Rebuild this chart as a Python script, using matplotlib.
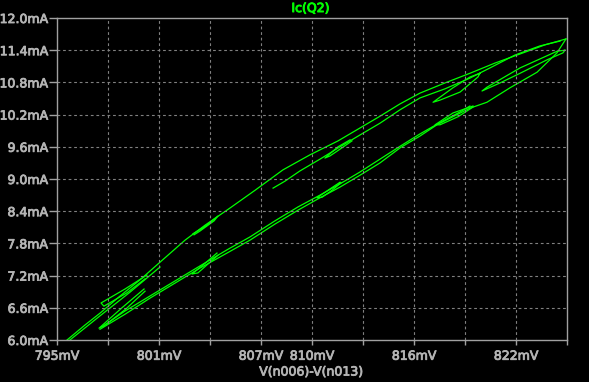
import numpy as np
import matplotlib
matplotlib.use('Agg')
import matplotlib.pyplot as plt
import matplotlib.patheffects as pe

green = '#00ff00'
gray = '#a0a0a0'
txt = '#b4b4b4'

# main upper branch (outer line) and its return line
ua_v = [795.59, 796.65, 797.53, 798.71, 799.88, 801.06, 802.53, 803.71, 805.18, 806.65, 808.29,
        809.88, 811.53, 812.82, 814.00, 815.18, 816.35, 817.82, 819.29, 820.76, 822.24, 823.71, 824.94]
ua_i = [6.00, 6.28, 6.50, 6.82, 7.12, 7.45, 7.86, 8.14, 8.46, 8.79, 9.17,
        9.45, 9.71, 9.95, 10.17, 10.40, 10.60, 10.79, 10.97, 11.16, 11.33, 11.50, 11.61]
ub_v = [824.59, 823.41, 821.94, 820.47, 819.29, 817.82, 816.35, 815.18, 814.00, 812.82, 811.65,
        810.47, 809.29, 808.41, 807.71]
ub_i = [11.57, 11.48, 11.31, 11.07, 10.88, 10.68, 10.51, 10.29, 10.04, 9.82, 9.60,
        9.37, 9.15, 8.96, 8.83]
uc_v = [795.76, 797.53, 799.29, 801.06]
uc_i = [6.00, 6.45, 6.89, 7.36]

# lower branch, from the top right tip down to the bottom left
la_v = [824.94, 824.41, 823.24, 821.65, 820.29, 819.29, 817.35, 816.35, 815.18, 814.00, 812.82,
        811.65, 810.47, 809.18, 807.82, 806.35, 805.00, 803.41, 801.94, 800.47, 799.00, 797.53]
la_i = [11.61, 11.35, 10.99, 10.70, 10.43, 10.32, 10.01, 9.80, 9.58, 9.30, 9.07,
        8.85, 8.65, 8.42, 8.16, 7.86, 7.62, 7.34, 7.06, 6.78, 6.48, 6.20]
lb_v = [797.71, 799.00, 800.47, 801.94, 803.41, 805.00, 806.35, 807.82, 809.18, 810.47, 811.65,
        812.82, 814.00, 815.18, 816.35, 817.35, 818.71, 819.29]
lb_i = [6.26, 6.54, 6.82, 7.10, 7.38, 7.68, 7.92, 8.22, 8.48, 8.70, 8.91,
        9.13, 9.37, 9.61, 9.84, 10.02, 10.25, 10.36]

# small minor loops
s1_v = [800.29, 799.00, 797.59, 797.76, 799.12, 800.18]
s1_i = [7.21, 6.95, 6.69, 6.63, 6.88, 7.14]
s2_v = [800.12, 798.82, 797.47, 797.76, 799.06, 800.18]
s2_i = [6.95, 6.60, 6.22, 6.26, 6.58, 6.91]
s3_v = [804.41, 803.71, 802.94, 803.29, 804.00, 804.47]
s3_i = [7.62, 7.43, 7.23, 7.25, 7.45, 7.58]
s4_v = [803.00, 803.71, 804.47, 804.24, 803.41, 803.06]
s4_i = [7.98, 8.12, 8.31, 8.22, 8.03, 7.96]
s5_v = [812.24, 811.53, 810.76, 811.06, 811.76, 812.35]
s5_i = [9.73, 9.60, 9.39, 9.43, 9.58, 9.71]
s6_v = [811.65, 810.94, 810.29, 810.59, 811.18, 811.71]
s6_i = [8.94, 8.79, 8.65, 8.66, 8.79, 8.93]
s7_v = [819.88, 819.29, 818.29, 817.12, 817.53, 818.71, 819.76, 819.88]
s7_i = [10.97, 10.90, 10.70, 10.43, 10.47, 10.62, 10.90, 10.97]
s8_v = [824.88, 824.41, 822.24, 820.29, 820.00, 821.06, 822.24, 823.82, 824.76, 824.88]
s8_i = [11.40, 11.38, 11.07, 10.71, 10.64, 10.79, 10.97, 11.22, 11.35, 11.40]
s9_v = [819.47, 818.29, 817.24, 817.53, 818.59, 819.47]
s9_i = [10.36, 10.23, 10.01, 10.01, 10.16, 10.34]

xticks = [795, 798, 801, 804, 807, 810, 813, 816, 819, 822, 825]
xlabels = ['795mV', '', '801mV', '', '807mV', '810mV', '', '816mV', '', '822mV', '']
yticks = [6.0, 6.6, 7.2, 7.8, 8.4, 9.0, 9.6, 10.2, 10.8, 11.4, 12.0]
ylabels = ['%.1fmA' % y for y in yticks]

fig = plt.figure(figsize=(5.89, 3.82), dpi=100, facecolor='black')
ax = fig.add_axes([57 / 589, 42 / 382, 510 / 589, 322 / 382], facecolor='black')

curves = [(ua_v, ua_i), (ub_v, ub_i), (uc_v, uc_i), (la_v, la_i), (lb_v, lb_i),
          (s1_v, s1_i), (s2_v, s2_i), (s3_v, s3_i), (s4_v, s4_i), (s5_v, s5_i),
          (s6_v, s6_i), (s7_v, s7_i), (s8_v, s8_i), (s9_v, s9_i)]
for v, i in curves:
    ax.plot(v, i, color=green, lw=0.9, solid_joinstyle='round')

ax.set_xlim(795, 825)
ax.set_ylim(6.0, 12.0)
ax.set_xticks(xticks)
ax.set_xticklabels(xlabels)
ax.set_yticks(yticks)
ax.set_yticklabels(ylabels)

for x in xticks[1:-1]:
    ax.axvline(x, color='#808080', lw=0.8, ls=(0, (2.5, 2.5)))
for y in yticks[1:-1]:
    ax.axhline(y, color='#808080', lw=0.8, ls=(0, (2.5, 2.5)))

for s in ax.spines.values():
    s.set_color(gray)
    s.set_linewidth(1.0)
ax.tick_params(axis='x', colors=gray, length=3.6, width=1.0, pad=3.4, labelsize=9)
ax.tick_params(axis='y', colors=gray, length=6, width=1.0, pad=0.5, labelsize=9)

bold_txt = [pe.withStroke(linewidth=0.6, foreground=txt)]
for t in ax.get_xticklabels() + ax.get_yticklabels():
    t.set_color(txt)
    t.set_path_effects(bold_txt)

fig.text(310.5 / 589, 1 - 8.5 / 382, 'Ic(Q2)', color=green, fontsize=9, ha='center', va='center',
         path_effects=[pe.withStroke(linewidth=0.7, foreground=green)])
fig.text(311 / 589, 1 - 372 / 382, 'V(n006)-V(n013)', color=txt, fontsize=9,
         ha='center', va='center', path_effects=bold_txt)

plt.savefig('out.png', dpi=100, facecolor='black')
